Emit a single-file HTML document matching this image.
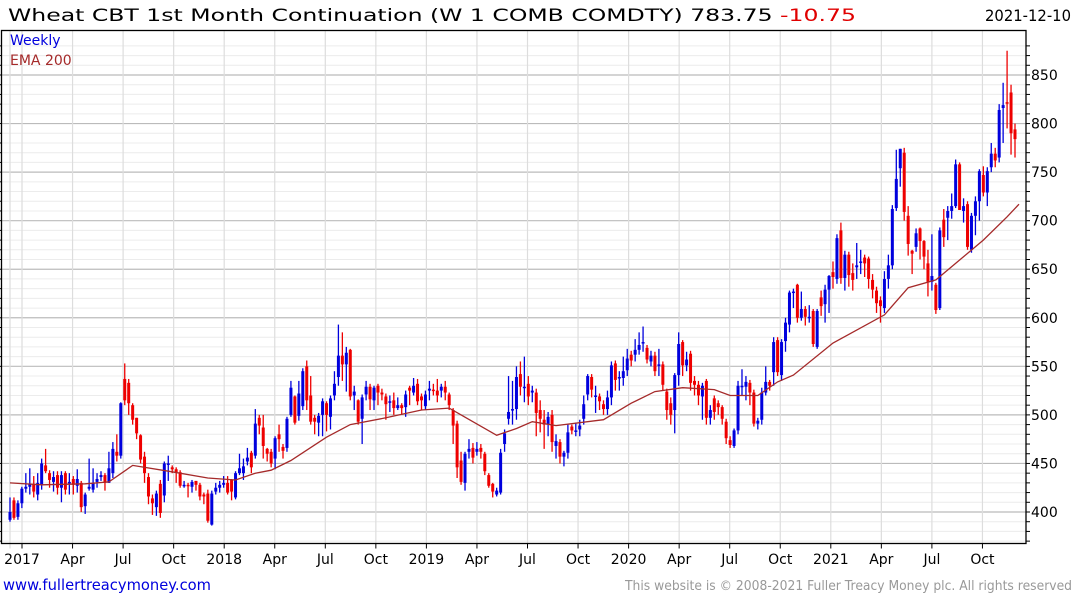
<!DOCTYPE html>
<html><head><meta charset="utf-8"><style>
body{margin:0;background:#fff;width:1075px;height:600px;overflow:hidden;font-family:"DejaVu Sans","Liberation Sans",sans-serif}
svg{display:block}
</style></head><body>
<svg id="chart" width="1075" height="600" xmlns="http://www.w3.org/2000/svg" font-family="DejaVu Sans, Liberation Sans, sans-serif">
<text x="8" y="21" font-size="17" fill="#000" textLength="848" lengthAdjust="spacingAndGlyphs">Wheat CBT 1st Month Continuation (W 1 COMB COMDTY) 783.75 <tspan fill="#e00000">-10.75</tspan></text>
<text x="1071" y="21" font-size="16" text-anchor="end" fill="#000" textLength="86" lengthAdjust="spacingAndGlyphs">2021-12-10</text>
<g id="grid"></g>
<g id="marks"></g>
<g id="ema"></g>
<rect x="1.5" y="30.5" width="1024.5" height="513" fill="none" stroke="#000" stroke-width="1.3"/>
<g id="axes"></g>
<text x="10" y="45" font-size="14" fill="#0000dd">Weekly</text>
<text x="10" y="65" font-size="14" fill="#a52a2a">EMA 200</text>
<text x="3" y="590" font-size="15" fill="#0000dd" textLength="208" lengthAdjust="spacingAndGlyphs">www.fullertreacymoney.com</text>
<text x="1072" y="590" font-size="13" fill="#999" text-anchor="end" textLength="447" lengthAdjust="spacingAndGlyphs">This website is © 2008-2021 Fuller Treacy Money plc. All rights reserved</text>
</svg>
<script>
const opens=[392,412,395,409,424,426,429,418,428,448,440,431,438,425,440,431,434,427,430,406,424,423,431,436,438,430,440,462,458,537,533,510,497,479,457,436,414,405,429,417,449,446,444,441,428,428,426,432,428,418,419,387,421,425,428,430,433,415,440,440,452,461,458,497,487,465,462,455,480,467,466,500,519,499,509,550,520,497,492,500,512,498,520,539,561,552,567,520,515,496,521,529,515,530,523,519,514,515,507,510,508,528,523,532,519,509,525,526,525,525,529,521,505,491,453,430,462,466,462,466,460,438,429,418,420,470,496,506,506,542,529,532,523,523,505,495,490,500,468,472,457,461,488,484,485,496,521,539,520,519,511,506,518,553,539,538,546,562,562,567,575,569,555,561,552,552,524,512,505,541,575,551,563,535,531,519,535,497,517,512,508,493,474,468,484,530,529,533,523,491,495,523,534,544,577,541,576,593,627,634,600,609,601,607,570,621,614,629,647,640,690,641,665,646,652,658,662,661,639,628,618,610,640,654,713,754,770,705,669,673,692,679,656,637,634,610,701,703,710,715,758,710,717,670,705,720,747,729,755,769,765,816,822,832,794];
const highs=[415,415,412,426,440,445,437,440,455,465,443,442,442,442,442,440,437,444,432,420,455,445,440,442,440,462,472,480,513,553,537,512,497,480,462,440,418,422,433,452,458,448,446,443,432,430,433,432,430,420,423,422,430,432,437,437,434,442,460,455,466,463,506,500,500,466,465,478,490,470,498,535,520,535,548,556,540,500,502,517,514,520,545,593,585,570,568,530,516,521,535,532,530,532,527,522,520,523,518,512,525,530,538,537,522,525,535,532,537,532,535,523,507,494,462,462,475,471,472,470,462,440,430,425,465,485,540,535,550,555,560,540,530,527,515,505,503,505,480,475,463,490,490,492,495,520,542,542,530,522,515,525,555,556,545,560,568,566,578,585,591,572,566,565,568,555,527,518,543,585,577,565,566,540,535,533,537,510,520,515,510,496,478,486,535,547,540,536,526,497,528,550,536,580,580,578,600,628,630,635,627,612,613,609,609,628,634,644,658,686,698,669,668,656,677,670,665,663,645,632,622,648,665,716,773,774,775,715,670,692,693,680,670,686,636,693,712,715,728,763,760,723,720,708,725,753,756,755,780,775,820,842,875,840,800];
const lows=[390,392,392,404,420,418,415,412,423,440,425,421,418,410,418,418,418,420,400,398,422,420,425,432,422,430,435,452,455,510,500,490,475,450,430,408,397,396,394,410,432,440,430,425,425,415,420,422,412,408,389,386,418,420,425,418,412,413,438,433,448,440,455,480,455,452,446,444,462,455,462,498,490,494,505,505,490,480,478,478,483,485,515,530,535,524,515,505,490,470,515,505,505,510,515,495,503,500,505,500,498,510,520,510,505,505,515,520,513,518,515,505,470,435,428,422,455,450,458,455,438,425,415,416,418,462,490,490,495,520,513,510,513,478,482,465,478,462,455,450,447,455,480,478,478,490,515,518,502,505,500,500,510,525,525,530,540,550,555,562,565,553,550,540,540,525,495,490,481,530,540,545,525,520,510,495,490,490,495,500,490,470,466,466,480,520,515,510,488,485,490,520,525,530,540,535,565,585,610,595,597,592,595,570,568,602,595,605,630,635,635,628,632,628,640,645,642,630,620,605,595,605,630,650,710,735,700,664,645,668,660,650,622,628,604,608,673,680,702,713,713,698,670,667,685,700,725,715,750,755,760,780,795,768,765];
const closes=[400,394,409,424,426,429,421,430,450,442,433,436,425,438,423,431,428,434,405,418,426,430,434,438,430,445,465,458,512,515,512,495,481,454,440,416,409,419,399,450,450,444,441,427,428,427,431,428,416,416,391,419,425,428,430,420,421,440,445,447,456,446,491,489,468,460,450,476,475,463,496,528,492,522,545,515,493,493,499,514,500,517,532,561,552,564,519,524,493,518,529,516,528,523,521,511,514,507,510,507,521,525,530,514,515,521,527,525,520,529,523,510,489,446,431,460,465,456,465,462,442,427,421,422,461,481,503,506,539,529,529,519,525,502,496,490,498,472,473,457,461,482,484,484,489,511,540,526,520,514,506,518,551,536,539,545,558,556,567,572,575,557,561,545,552,531,505,500,541,573,551,557,533,531,520,530,497,505,503,508,496,476,469,484,530,530,534,523,491,494,523,534,530,575,544,575,595,626,627,600,609,601,601,573,607,612,629,643,642,682,641,665,644,639,654,658,656,640,629,615,612,640,654,712,743,774,709,676,666,687,679,663,637,643,608,690,683,710,715,758,711,715,673,705,720,751,729,751,769,762,814,819,821,790,784];
const emaIdx=[0,8,19,25,31,40,50,57,62,66,71,80,86,95,104,111,114,123,128,132,138,150,157,163,170,178,182,189,194,198,208,221,227,234,239,246,252,255];
const emaVals=[430,428,429,431,448,442,435,433,440,443,453,477,490,497,505,507,500,479,486,493,489,495,512,524,528,526,520,520,534,541,574,603,631,639,656,680,704,717];
const yTicks=[400,450,500,550,600,650,700,750,800,850];
const xLabels=["2017","Apr","Jul","Oct","2018","Apr","Jul","Oct","2019","Apr","Jul","Oct","2020","Apr","Jul","Oct","2021","Apr","Jul","Oct"];

const NS="http://www.w3.org/2000/svg";
const X0=10,X1=1015,L=1.5,R=1026,T=30.5,B=543.5;
const n=closes.length;
const xS=i=>X0+(X1-X0)*i/(n-1);
const yS=v=>512-(v-400)*0.9711;
function mk(tag,attrs,parent){const e=document.createElementNS(NS,tag);for(const k in attrs)e.setAttribute(k,attrs[k]);parent.appendChild(e);return e;}
const grid=document.getElementById('grid'),axes=document.getElementById('axes'),marks=document.getElementById('marks'),emaG=document.getElementById('ema');
for(let v=370;v<=880;v+=10){const y=yS(v);if(y<T||y>B)continue;const major=v%50===0;
 const g=mk('line',{x1:L,x2:R,y1:y,y2:y,stroke:major?'#bbb':'#ececec','stroke-width':major?1.2:1},grid);
 
 
 const t=mk('line',{x1:R,x2:R+4,y1:y,y2:y,stroke:'#000'},axes);
 
 
 const lt=mk('line',{x1:0,x2:L,y1:y,y2:y,stroke:'#000'},axes);
 
 }
yTicks.forEach(v=>{const t=mk('text',{x:R+5,y:yS(v)+5,'font-size':14,fill:'#000'},axes);t.textContent=v;
 
 });
const q0=22,qStep=50.55;
xLabels.forEach((lab,k)=>{const x=q0+k*qStep;
 const g=mk('line',{x1:x,x2:x,y1:T,y2:B,stroke:'#ddd','stroke-width':1.2},grid);
 
 
 const t=mk('line',{x1:x,x2:x,y1:B,y2:B+5,stroke:'#000'},axes);
 
 
 const tx=mk('text',{x:x,y:564,'font-size':14,'text-anchor':'middle',fill:'#000'},axes);tx.textContent=lab;
 
 });
{const g=mk('line',{x1:10,x2:10,y1:T,y2:B+5,stroke:'#ddd','stroke-width':1.2},grid);
 
 }
for(let i=0;i<n;i++){const x=xS(i),o=opens[i],c=closes[i],up=c>=o,col=up?'#0000dd':'#ee0000';
 const w=mk('line',{x1:x,x2:x,y1:yS(highs[i]),y2:yS(lows[i]),stroke:col,'stroke-width':1.3},marks);
 
 
 const top=yS(Math.max(o,c)),bot=yS(Math.min(o,c));
 const b=mk('rect',{x:x-1.5,y:top,width:3,height:Math.max(1.5,bot-top),fill:col},marks);
 
 }
const pts=emaIdx.map((ix,k)=>xS(ix).toFixed(1)+','+yS(emaVals[k]).toFixed(1)).join(' ');
const pl=mk('polyline',{points:pts,fill:'none',stroke:'#a52a2a','stroke-width':1.3},emaG);


</script>
</body></html>
